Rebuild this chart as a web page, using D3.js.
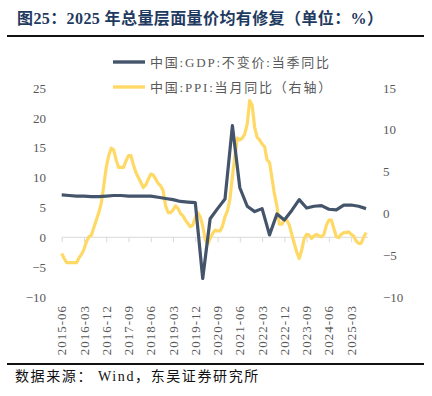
<!DOCTYPE html>
<html><head><meta charset="utf-8">
<script src="https://cdn.jsdelivr.net/npm/d3@7/dist/d3.min.js"></script>
<style>body{margin:0;background:#fff}svg{display:block}</style>
</head><body><svg id="c" width="432" height="396"></svg>
<script>
const titleText = "图25：2025 年总量层面量价均有修复（单位：%）";
const sourceText = "数据来源： Wind，东吴证券研究所";
const gdpName = "中国:GDP:不变价:当季同比";
const ppiName = "中国:PPI:当月同比（右轴）";
const xTickLabels = ["2015-06","2016-03","2016-12","2017-09","2018-06","2019-03","2019-12","2020-09","2021-06","2022-03","2022-12","2023-09","2024-06","2025-03"];
const leftTicks = [-10,-5,0,5,10,15,20,25];
const rightTicks = [-10,-5,0,5,10,15];
// GDP quarterly, from 2015-06 to 2025-09
const gdpQuarters = ["2015-06","2015-09","2015-12","2016-03","2016-06","2016-09","2016-12","2017-03","2017-06","2017-09","2017-12","2018-03","2018-06","2018-09","2018-12","2019-03","2019-06","2019-09","2019-12","2020-03","2020-06","2020-09","2020-12","2021-03","2021-06","2021-09","2021-12","2022-03","2022-06","2022-09","2022-12","2023-03","2023-06","2023-09","2023-12","2024-03","2024-06","2024-09","2024-12","2025-03","2025-06","2025-09"];
const gdpValues = [7.1,7.0,6.9,6.9,6.8,6.8,6.9,7.0,7.0,6.9,6.9,6.9,6.9,6.7,6.5,6.3,6.0,5.9,5.8,-6.9,3.1,4.8,6.4,18.7,8.3,5.2,4.3,4.8,0.4,3.9,2.9,4.5,6.3,4.9,5.2,5.3,4.7,4.6,5.4,5.4,5.2,4.8];
// PPI monthly, from 2015-06 to 2025-09
const ppiStart = "2015-06";
const ppiValues = [
 -4.8,-5.4,-5.9,-5.9,-5.9,-5.9,-5.9,
 -5.3,-4.9,-4.3,-3.4,-2.8,-2.6,-1.7,-0.8,0.1,1.2,3.3,5.5,
 6.9,7.8,7.6,6.4,5.5,5.5,5.5,6.3,6.9,6.9,5.8,4.9,
 4.3,3.7,3.1,3.4,4.1,4.7,4.6,4.1,3.6,3.3,2.7,0.9,
 0.1,0.1,0.4,0.9,0.6,0.0,-0.3,-0.8,-1.2,-1.6,-1.4,-0.5,
 0.1,-0.4,-1.5,-3.1,-3.7,-3.0,-2.4,-2.0,-2.1,-2.1,-1.5,-0.4,
 0.3,1.7,4.4,6.8,9.0,8.8,9.0,9.5,10.7,13.5,12.9,10.3,
 9.1,8.8,8.3,8.0,6.4,6.1,4.2,2.3,0.9,-1.3,-1.3,-0.7,
 -0.8,-1.4,-2.5,-3.6,-4.6,-5.4,-4.4,-3.0,-2.5,-2.6,-3.0,-2.7,
 -2.5,-2.7,-2.8,-2.5,-1.4,-0.8,-0.8,-1.8,-2.8,-2.9,-2.5,-2.3,
 -2.3,-2.2,-2.5,-2.7,-3.3,-3.6,-3.6,-2.9,-2.3];

const monthIdx = s => { const [y,m] = s.split("-").map(Number); return (y-2015)*12 + (m-6); };
const svg = d3.select("#c");
const serif = "'Liberation Serif','Noto Sans CJK SC',serif";
const gray = "#595959";

const x = d3.scaleLinear().domain([0, 123]).range([61.7, 366]);
const yL = d3.scaleLinear().domain([-10, 25]).range([297, 88]);
const yR = d3.scaleLinear().domain([-10, 15]).range([297, 88]);

// title
svg.append("text").attr("x", 17).attr("y", 23.5).attr("font-family", serif).attr("font-weight","bold")
  .attr("font-size", 16).attr("letter-spacing", 0.4).attr("fill", "#1f3a60").text(titleText);
svg.append("line").attr("x1",7).attr("x2",424).attr("y1",36).attr("y2",36).attr("stroke","#111").attr("stroke-width",2);

// x axis
const xAxis = d3.axisBottom(x).tickValues(xTickLabels.map(monthIdx)).tickSize(5).tickFormat("");
const gx = svg.append("g").attr("transform", `translate(0,${yL(0)})`).call(xAxis);
gx.select(".domain").attr("stroke","#d9d9d9").attr("d", `M${x(0)},0H${x(123)+2}`);
gx.selectAll(".tick line").attr("stroke","#d9d9d9");
svg.append("g").selectAll("text").data(xTickLabels).join("text")
  .attr("transform", d => `translate(${x(monthIdx(d))},305) rotate(-90)`)
  .attr("text-anchor","end").attr("dy","0.35em").attr("font-family", serif).attr("font-size", 13)
  .attr("letter-spacing", 1).attr("fill", gray).text(d => d);

// left axis
const gl = svg.append("g").attr("transform","translate(46,0)")
  .call(d3.axisLeft(yL).tickValues(leftTicks).tickSize(0).tickPadding(0));
gl.select(".domain").remove();
gl.selectAll("text").attr("font-family", serif).attr("font-size", 13).attr("fill", gray);
// right axis
const gr = svg.append("g").attr("transform","translate(383,0)")
  .call(d3.axisRight(yR).tickValues(rightTicks).tickSize(0).tickPadding(0));
gr.select(".domain").remove();
gr.selectAll("text").attr("font-family", serif).attr("font-size", 13).attr("fill", gray);

// lines
const ppiData = ppiValues.map((v,i) => [monthIdx(ppiStart)+i, v]);
const gdpData = gdpQuarters.map((q,i) => [monthIdx(q), gdpValues[i]]);
svg.append("path").datum(ppiData).attr("fill","none").attr("stroke","#ffd966").attr("stroke-width",3.2)
  .attr("stroke-linejoin","round").attr("d", d3.line().x(d=>x(d[0])).y(d=>yR(d[1])));
svg.append("path").datum(gdpData).attr("fill","none").attr("stroke","#44546a").attr("stroke-width",3.2)
  .attr("stroke-linejoin","round").attr("d", d3.line().x(d=>x(d[0])).y(d=>yL(d[1])));

// legend
const leg = [[gdpName,"#44546a",62],[ppiName,"#ffd966",87]];
leg.forEach(([t,c,y]) => {
  svg.append("line").attr("x1",113).attr("x2",145).attr("y1",y).attr("y2",y).attr("stroke",c).attr("stroke-width",3.4);
  svg.append("text").attr("x",150).attr("y",y).attr("dy","0.36em").attr("font-family", serif)
    .attr("font-size",13).attr("letter-spacing",1.8).attr("fill",gray).text(t);
});

// bottom
svg.append("line").attr("x1",7).attr("x2",424).attr("y1",364).attr("y2",364).attr("stroke","#111").attr("stroke-width",2);
svg.append("text").attr("x",15).attr("y",381).attr("font-family", serif).attr("font-size",14)
  .attr("letter-spacing",1.6).attr("fill","#111").text(sourceText);
</script></body></html>
